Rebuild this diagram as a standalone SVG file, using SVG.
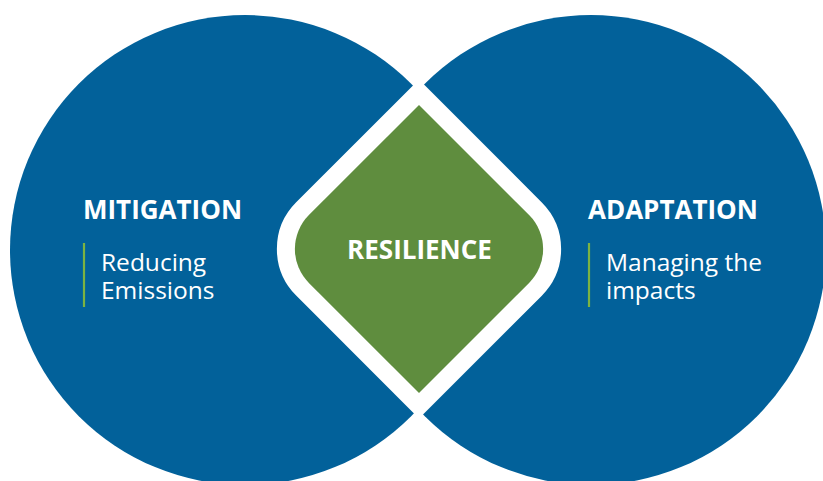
<svg xmlns="http://www.w3.org/2000/svg" width="823" height="481" viewBox="0 0 823 481">
<style>
.circle{fill:#02619a}
.title{font-family:"Open Sans","Liberation Sans",sans-serif;font-weight:700;font-size:26px;fill:#ffffff}
.sub{font-family:"Open Sans","Liberation Sans",sans-serif;font-weight:400;font-size:24.5px;fill:#ffffff}
.bar{stroke:#7cb342;stroke-width:2.2}
</style>
<rect width="823" height="481" fill="#ffffff"/>
<g id="mitigation">
<circle class="circle" cx="245" cy="250" r="235"/>
</g>
<g id="adaptation">
<circle class="circle" cx="591" cy="250" r="235"/>
</g>
<g id="resilience">
<path d="M419,105 L308.9,215.1 A48,48 0 0 0 308.9,282.9 L419,393 L529.1,282.9 A48,48 0 0 0 529.1,215.1 Z" fill="#ffffff" stroke="#ffffff" stroke-width="36" stroke-linejoin="miter"/>
<path d="M419,105 L308.9,215.1 A48,48 0 0 0 308.9,282.9 L419,393 L529.1,282.9 A48,48 0 0 0 529.1,215.1 Z" fill="#5f8d3e"/>
<text class="title" x="419.5" y="259" text-anchor="middle">RESILIENCE</text>
</g>
<g id="mitigation-text">
<text class="title" x="83" y="219">MITIGATION</text>
<line class="bar" x1="84" y1="243" x2="84" y2="307"/>
<text class="sub" x="101" y="271">Reducing</text>
<text class="sub" x="101" y="299">Emissions</text>
</g>
<g id="adaptation-text">
<text class="title" x="588" y="219">ADAPTATION</text>
<line class="bar" x1="589" y1="243" x2="589" y2="307"/>
<text class="sub" x="606" y="271">Managing the</text>
<text class="sub" x="606" y="299">impacts</text>
</g>
</svg>
